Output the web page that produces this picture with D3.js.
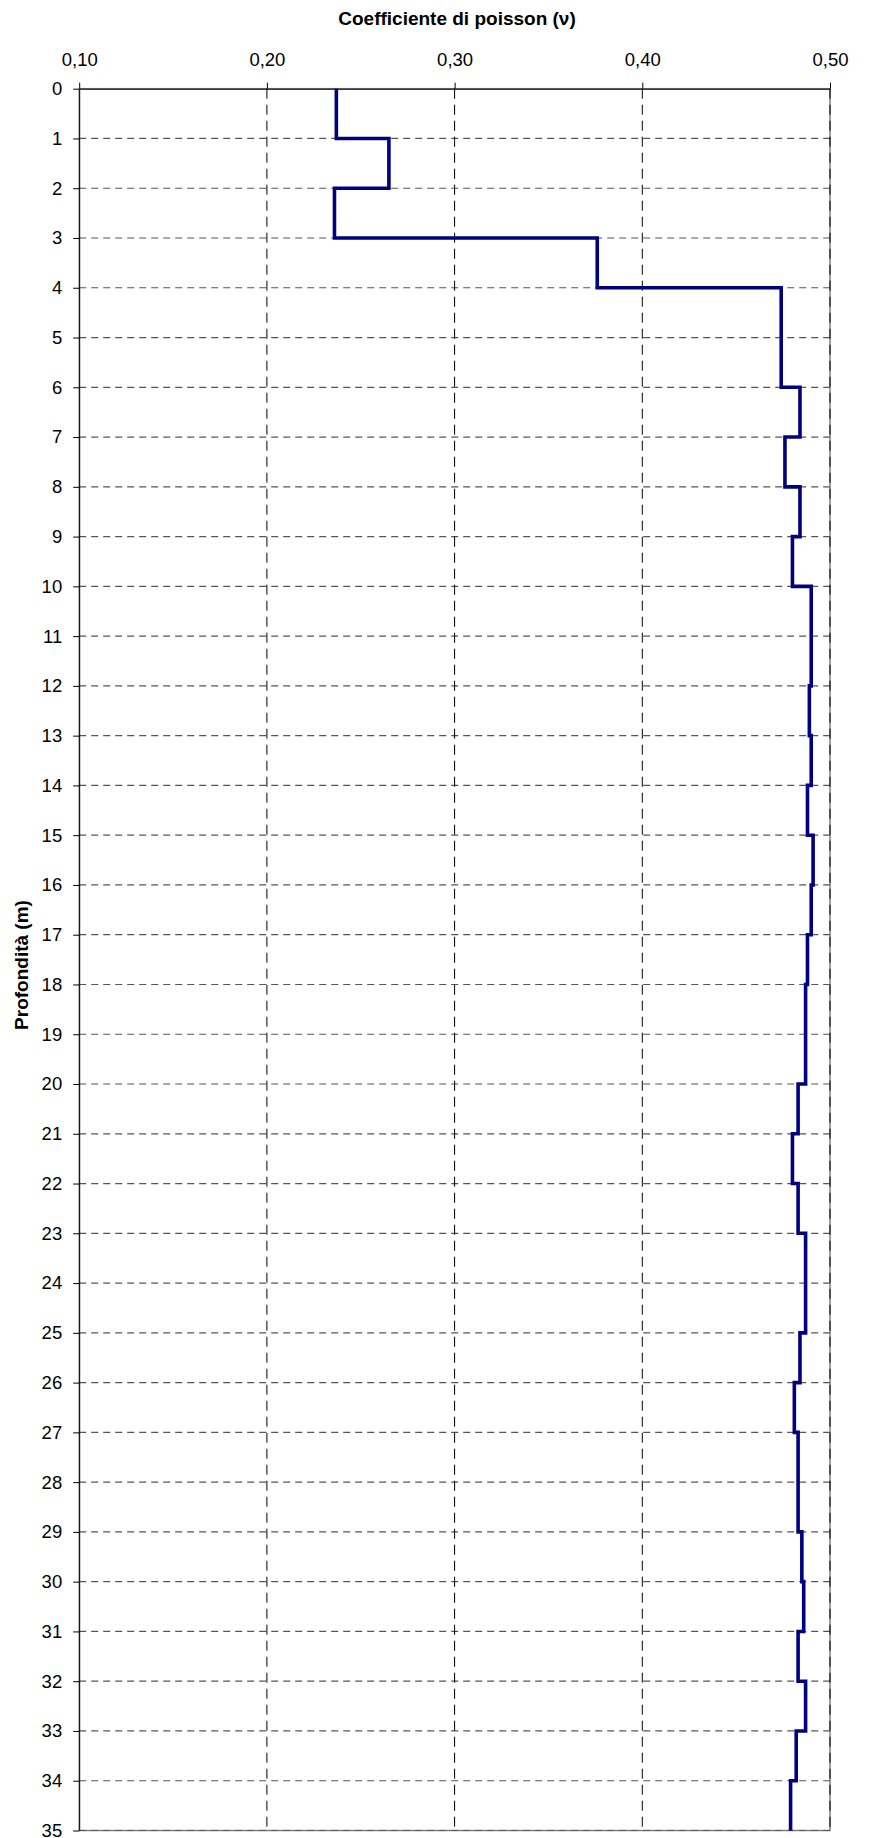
<!DOCTYPE html>
<html lang="it">
    <head>
        <meta charset="utf-8">
        <title>Coefficiente di poisson</title>
        <script src="https://d3js.org/d3.v7.min.js"></script>
        <style type="text/css">
        body {
            margin: 0;
            background-color: white;
        }
        svg {
            background-color: white;
            display: block;
        }
        .axis text {
            font-family: "Liberation Sans", Arial, sans-serif;
            font-size: 18.5px;
            fill: black;
        }
        .titolo {
            font-family: "Liberation Sans", Arial, sans-serif;
            font-size: 19px;
            font-weight: bold;
            fill: black;
        }
        </style>
    </head>
    <body>
        <script>
        // profondità (m) inizio di ogni strato
        var depths = [0, 1, 2, 3, 4, 5, 6, 7, 8, 9, 10, 11, 12, 13, 14, 15, 16, 17,
                      18, 19, 20, 21, 22, 23, 24, 25, 26, 27, 28, 29, 30, 31, 32, 33, 34];
        // coefficiente di poisson per strato
        var poisson = [0.237, 0.265, 0.236, 0.376, 0.474, 0.474, 0.484, 0.476, 0.484, 0.480,
                       0.490, 0.490, 0.489, 0.490, 0.488, 0.491, 0.490, 0.488, 0.487, 0.487,
                       0.483, 0.480, 0.483, 0.487, 0.487, 0.484, 0.481, 0.483, 0.483, 0.485,
                       0.486, 0.483, 0.487, 0.482, 0.479];
        var bottomDepth = 35;

        var xTicks = [0.10, 0.20, 0.30, 0.40, 0.50];
        var yTicks = [0, 1, 2, 3, 4, 5, 6, 7, 8, 9, 10, 11, 12, 13, 14, 15, 16, 17, 18,
                      19, 20, 21, 22, 23, 24, 25, 26, 27, 28, 29, 30, 31, 32, 33, 34, 35];

        var width = 869,
            height = 1838,
            margin = {top: 88.7, right: 39, bottom: 7.5, left: 79.2};

        var svg = d3.select("body").append("svg")
            .attr("width", width)
            .attr("height", height);

        var x = d3.scaleLinear().domain([0.10, 0.50]).range([margin.left, width - margin.right]);
        var y = d3.scaleLinear().domain([0, 35]).range([margin.top, height - margin.bottom]);

        var it = d3.formatLocale({decimal: ",", thousands: ".", grouping: [3], currency: ["", "€"]});
        var fmt = it.format(".2f");

        // bordo area grafico
        svg.append("rect")
            .attr("x", x(0.10))
            .attr("y", y(0))
            .attr("width", x(0.50) - x(0.10))
            .attr("height", y(35) - y(0))
            .attr("fill", "white")
            .attr("stroke", "#808080")
            .attr("stroke-width", 1.5);

        // griglia orizzontale
        svg.append("g").selectAll("line")
            .data(yTicks.filter(function(d) { return d > 0; }))
            .enter().append("line")
            .attr("x1", x(0.10))
            .attr("x2", x(0.50))
            .attr("y1", function(d) { return y(d); })
            .attr("y2", function(d) { return y(d); })
            .attr("stroke", "#555")
            .attr("stroke-width", 1.2)
            .attr("stroke-dasharray", "7,5");

        // griglia verticale
        svg.append("g").selectAll("line")
            .data(xTicks.filter(function(d) { return d > 0.10; }))
            .enter().append("line")
            .attr("x1", function(d) { return x(d); })
            .attr("x2", function(d) { return x(d); })
            .attr("y1", y(0))
            .attr("y2", y(35))
            .attr("stroke", "#000")
            .attr("stroke-width", 1)
            .attr("stroke-dasharray", "10,6");

        // assi
        svg.append("g")
            .attr("class", "axis")
            .attr("transform", "translate(0," + y(0) + ")")
            .call(d3.axisTop(x).tickValues(xTicks).tickFormat(fmt).tickSize(6).tickSizeOuter(0).tickPadding(17))
            .call(function(g) { g.selectAll("line, path").attr("stroke", "#000"); });

        svg.append("g")
            .attr("class", "axis")
            .attr("transform", "translate(" + x(0.10) + ",0)")
            .call(d3.axisLeft(y).tickValues(yTicks).tickFormat(d3.format("d")).tickSize(6).tickSizeOuter(0).tickPadding(11))
            .call(function(g) { g.selectAll("line, path").attr("stroke", "#000"); });

        // profilo a gradini
        var pts = depths.map(function(d, i) { return [poisson[i], d]; });
        pts.push([poisson[poisson.length - 1], bottomDepth]);

        var line = d3.line()
            .x(function(d) { return x(d[0]); })
            .y(function(d) { return y(d[1]); })
            .curve(d3.curveStepBefore);

        svg.append("path")
            .datum(pts)
            .attr("d", line)
            .attr("fill", "none")
            .attr("stroke", "#000080")
            .attr("stroke-width", 3.6)
            .attr("stroke-linejoin", "miter");

        // titoli
        svg.append("text")
            .attr("class", "titolo")
            .attr("x", 457)
            .attr("y", 25)
            .attr("text-anchor", "middle")
            .text("Coefficiente di poisson (ν)");

        svg.append("text")
            .attr("class", "titolo")
            .attr("transform", "translate(28,965) rotate(-90)")
            .attr("text-anchor", "middle")
            .text("Profondità (m)");
        </script>
    </body>
</html>
